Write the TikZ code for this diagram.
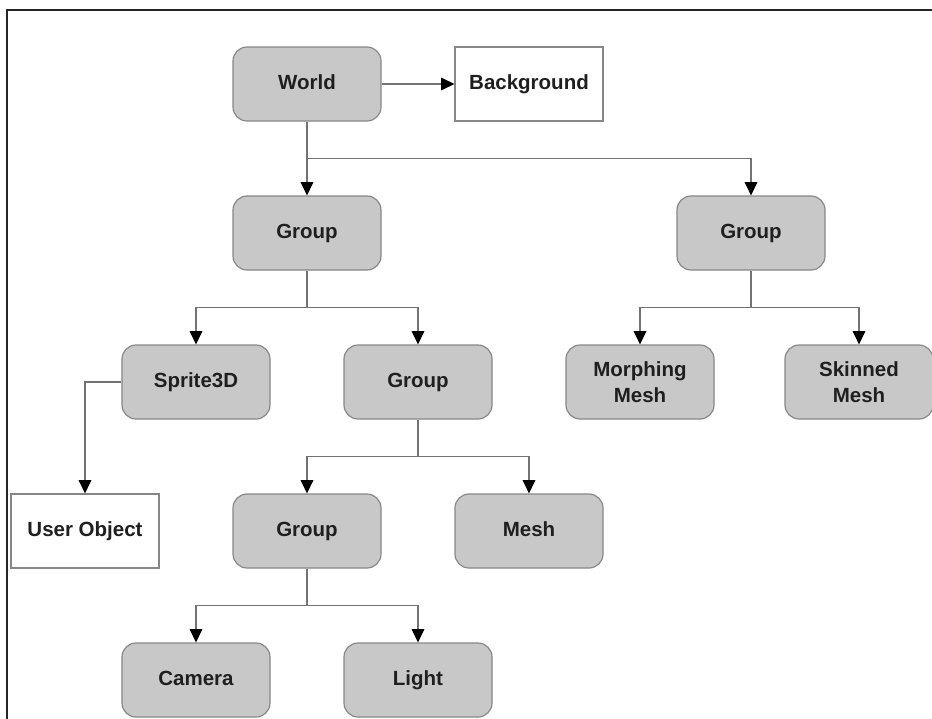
\documentclass[tikz,border=0pt]{standalone}
\usepackage{fontspec}
\setmainfont{Liberation Sans}
\usepackage{xcolor}
\usepackage{tikz}
\usetikzlibrary{arrows.meta}
\definecolor{boxfill}{RGB}{200,200,200}
\definecolor{boxline}{RGB}{135,135,135}
\definecolor{wire}{RGB}{115,115,115}

\begin{document}
\begin{tikzpicture}[x=0.03cm, y=-0.03cm,
    obj/.style={draw=boxline, line width=1pt, fill=boxfill, rounded corners=0.42cm,
      minimum width=4.44cm, minimum height=2.22cm, align=center,
      font=\fontsize{17.5}{22}\selectfont\bfseries, text=black!88},
    one/.style={obj, text height=1.9ex, text depth=0ex},
    leaf/.style={one, fill=white, rounded corners=0pt},
    arr/.style={draw=wire, line width=0.9pt, -{Triangle[length=0.4cm, width=0.38cm, black]}}]
    \useasboundingbox (0,0) rectangle (932,718);
    \draw[line width=1.5pt, black!85] (7,730) -- (7,10) -- (940,10);

    \node[one] (world) at (307,84) {World};
    \node[leaf] (bg) at (529,84) {Background};
    \node[one] (grpa) at (307,233) {Group};
    \node[one] (grpb) at (751,233) {Group};
    \node[one] (sprite) at (196,382) {Sprite3D};
    \node[one] (grpc) at (418,382) {Group};
    \node[obj] (morph) at (640,382) {Morphing\\Mesh};
    \node[obj] (skin) at (859,382) {Skinned\\Mesh};
    \node[leaf] (user) at (85,531) {User Object};
    \node[one] (grpd) at (307,531) {Group};
    \node[one] (mesh) at (529,531) {Mesh};
    \node[one] (cam) at (196,680) {Camera};
    \node[one] (light) at (418,680) {Light};

    \draw[arr] (world) -- (bg);
    \draw[arr] (world) -- (grpa);
    \draw[arr] (world.south) ++(0,37) -| (grpb.north);
    \draw[arr] (grpa.south) -- ++(0,37) -| (sprite.north);
    \draw[arr] (grpa.south) ++(0,37) -| (grpc.north);
    \draw[arr] (grpb.south) -- ++(0,37) -| (morph.north);
    \draw[arr] (grpb.south) ++(0,37) -| (skin.north);
    \draw[arr] (sprite.west) -| (user.north);
    \draw[arr] (grpc.south) -- ++(0,37) -| (grpd.north);
    \draw[arr] (grpc.south) ++(0,37) -| (mesh.north);
    \draw[arr] (grpd.south) -- ++(0,37) -| (cam.north);
    \draw[arr] (grpd.south) ++(0,37) -| (light.north);
\end{tikzpicture}
\end{document}
